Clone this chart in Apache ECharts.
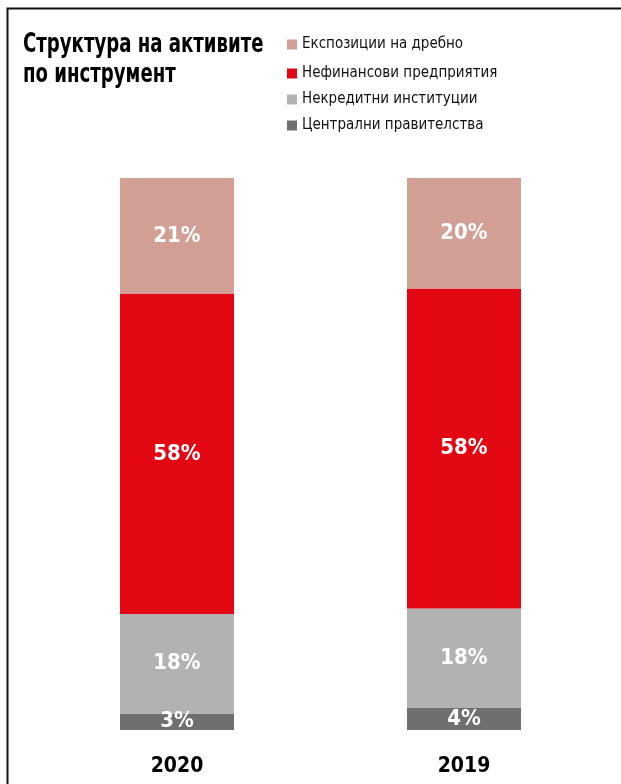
<!DOCTYPE html>
<html>
<head>
<meta charset="utf-8">
<script src="https://cdn.jsdelivr.net/npm/echarts@6/dist/echarts.min.js"></script>
<style>
  html, body { margin: 0; padding: 0; background: #fff; }
  #chart { width: 621px; height: 784px; }
</style>
</head>
<body>
<div id="chart"></div>
<script>
// Asset structure by instrument, shares in percent
const years = ['2020', '2019'];
const seriesNames = ['Експозиции на дребно', 'Нефинансови предприятия', 'Некредитни институции', 'Централни правителства'];
const retail = [21, 20];
const nonFinancial = [58, 58];
const nonCredit = [18, 18];
const government = [3, 4];
const titleLines = ['Структура на активите', 'по инструмент'];

const colors = {
  retail: '#D29F95',
  nonFinancial: '#E30613',
  nonCredit: '#B2B2B2',
  government: '#6F6F6F'
};

const FONT = '"DejaVu Sans Condensed", "Liberation Sans Narrow", sans-serif';

const chart = echarts.init(document.getElementById('chart'));

function barSeries(name, data, color) {
  return {
    name: name,
    type: 'bar',
    stack: 'total',
    data: data,
    barWidth: 114,
    itemStyle: { color: color },
    label: {
      show: true,
      position: 'inside',
      formatter: '{c}%',
      color: '#fff',
      fontFamily: FONT,
      fontWeight: 'bold',
      fontSize: 22
    },
    emphasis: { disabled: true }
  };
}

// one legend block per entry so each row sits at its own height
const legendTops = [37, 66, 92, 118];
const legends = seriesNames.map((n, i) => ({
  data: [n],
  left: 287,
  top: legendTops[i],
  padding: 0,
  icon: 'rect',
  itemWidth: 10,
  itemHeight: 10,
  itemGap: 6,
  selectedMode: false,
  textStyle: { fontFamily: FONT, fontSize: 15, color: '#111', padding: [0, 0, 0, 0] }
}));

chart.setOption({
  animation: false,
  backgroundColor: '#fff',
  legend: legends,
  grid: { left: 33.5, right: 13.5, top: 178, bottom: 54, containLabel: false },
  xAxis: {
    type: 'category',
    data: years,
    axisLine: { show: false },
    axisTick: { show: false },
    axisLabel: {
      margin: 26,
      fontFamily: FONT,
      fontWeight: 'bold',
      fontSize: 21,
      color: '#000'
    }
  },
  yAxis: {
    type: 'value',
    min: 0,
    max: 100,
    show: false
  },
  series: [
    barSeries(seriesNames[3], government, colors.government),
    barSeries(seriesNames[2], nonCredit, colors.nonCredit),
    barSeries(seriesNames[1], nonFinancial, colors.nonFinancial),
    barSeries(seriesNames[0], retail, colors.retail)
  ],
  graphic: [
    {
      type: 'polyline',
      shape: { points: [[7.5, 800], [7.5, 8.5], [640, 8.5]] },
      style: { stroke: '#111', lineWidth: 2, fill: null },
      silent: true
    },
    {
      // condensed bold heading
      type: 'text',
      x: 23,
      y: 30,
      scaleX: 0.775,
      style: {
        text: titleLines.join('\n'),
        fontFamily: FONT,
        fontWeight: 'bold',
        fontSize: 26,
        lineHeight: 30,
        fill: '#000'
      },
      silent: true
    }
  ]
});
</script>
</body>
</html>
